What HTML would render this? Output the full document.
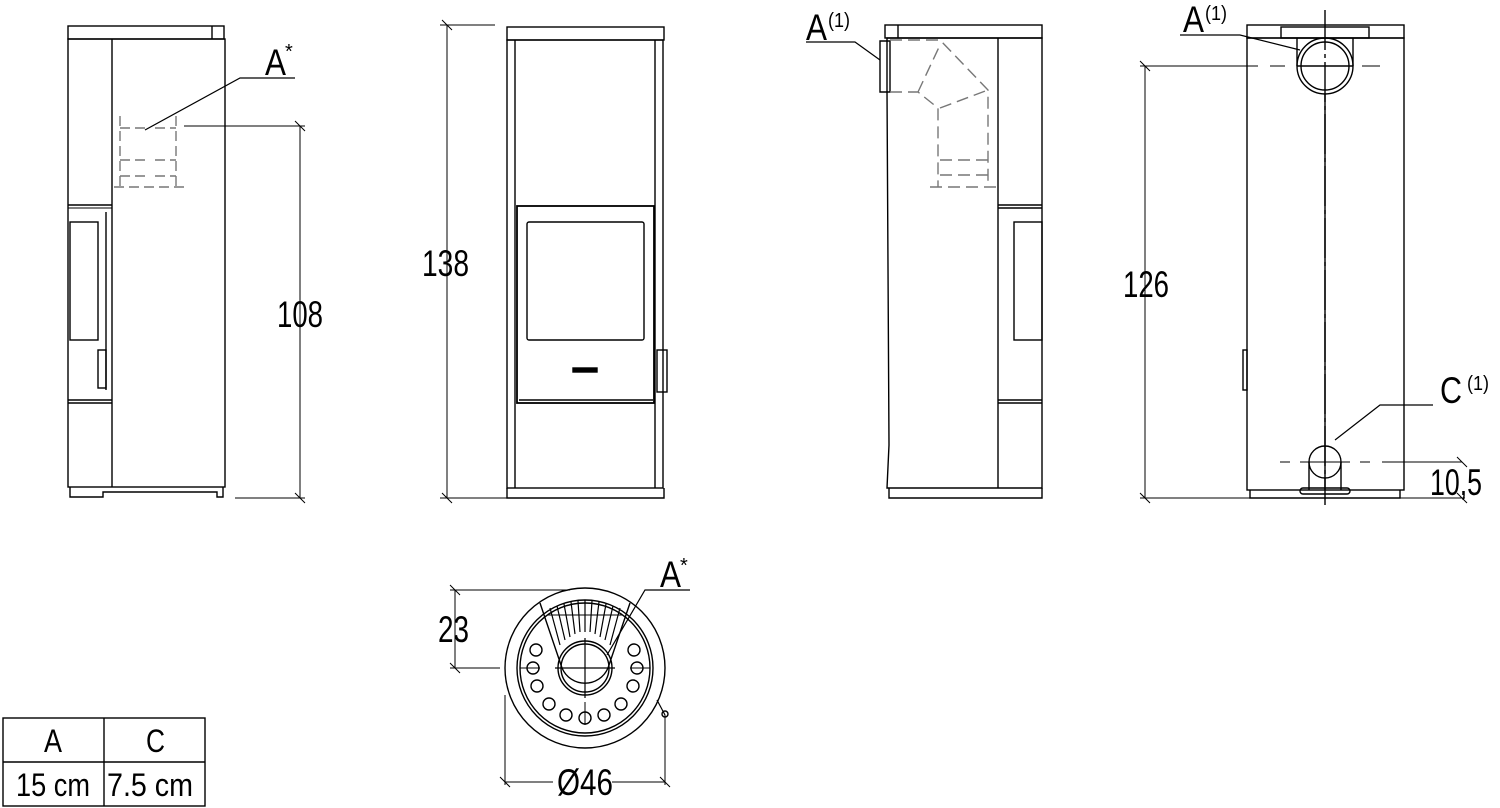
<!DOCTYPE html>
<html><head><meta charset="utf-8"><style>
html,body{margin:0;padding:0;background:#fff;width:1500px;height:808px;overflow:hidden}
svg{display:block}
text{font-family:"Liberation Sans",sans-serif;fill:#000}
</style></head><body>
<svg width="1500" height="808" viewBox="0 0 1500 808" xmlns="http://www.w3.org/2000/svg">
<g fill="none" stroke="#000" stroke-width="1.4">
<!-- VIEW 1 -->
<rect x="68" y="26" width="156" height="13"/>
<line x1="212" y1="26" x2="212" y2="39"/>
<rect x="68" y="39" width="157" height="448"/>
<line x1="112" y1="39" x2="112" y2="487"/>
<line x1="68" y1="205" x2="112" y2="205"/>
<line x1="68" y1="208" x2="112" y2="208" stroke-width="1"/>
<rect x="70" y="222" width="28" height="118"/>
<path d="M106 212 V390"/>
<rect x="98" y="350" width="8" height="38"/>
<line x1="68" y1="400" x2="112" y2="400"/>
<line x1="68" y1="403" x2="112" y2="403"/>
<path d="M70 487 V497 H103 V492 H217 V497 H223 V487"/>
<g stroke="#777" stroke-dasharray="10 5">
<path d="M120 116 V187 M176 116 V187 M114 187 H185 M120 128 H148 M155 128 H176 M120 160 H148 M155 160 H176 M120 176 H148 M155 176 H176"/>
</g>
<path d="M184 126 H305 M300 126 V498 M235 498 H305 M295 121 L305 131 M295 493 L305 503" stroke-width="1"/>
<path d="M295 78 H240 L145 130" stroke-width="1.2"/>
<!-- VIEW 2 -->
<rect x="507" y="27" width="157" height="13"/>
<rect x="507" y="40" width="156" height="448"/>
<line x1="515" y1="40" x2="515" y2="488"/>
<line x1="655" y1="40" x2="655" y2="488"/>
<rect x="517" y="206" width="137" height="197" stroke-width="1.8"/>
<rect x="527" y="222" width="117" height="118" rx="2"/>
<rect x="573" y="368" width="24" height="4" fill="#000"/>
<rect x="657" y="350" width="10" height="42"/>
<line x1="519" y1="400" x2="653" y2="400"/>
<path d="M507 488 V498 H664 V488"/>
<path d="M440 25 H495 M447 25 V498 M440 498 H510 M442 20 L452 30 M442 493 L452 503" stroke-width="1"/>
<!-- VIEW 3 -->
<rect x="885" y="25" width="157" height="13"/>
<line x1="898" y1="25" x2="898" y2="38"/>
<path d="M887 38 V90 L889 445 L887 488 H1042 V38 Z"/>
<line x1="998" y1="38" x2="998" y2="488"/>
<line x1="998" y1="205" x2="1042" y2="205"/>
<line x1="998" y1="208" x2="1042" y2="208"/>
<rect x="1014" y="222" width="28" height="118"/>
<line x1="998" y1="400" x2="1042" y2="400"/>
<line x1="998" y1="403" x2="1042" y2="403"/>
<path d="M880 41 H890 V92 H880 Z"/>
<path d="M889 488 V498 H1042 V488"/>
<g stroke="#777" stroke-dasharray="12 6">
<path d="M890 40 H940 L988 90 V187 M890 92 H918 L938 108 V187 M930 187 H998 M940 160 H990 M940 175 H990 M918 92 L940 45 M940 108 L988 90"/>
</g>
<path d="M806 42 H855 L880 60" stroke-width="1.2"/>
<!-- VIEW 4 -->
<rect x="1247" y="25" width="157" height="13"/>
<rect x="1281" y="27" width="88" height="11"/>
<rect x="1247" y="38" width="157" height="452"/>
<path d="M1297 38 V66 M1353 38 V66"/>
<circle cx="1325" cy="66" r="28"/>
<circle cx="1325" cy="66" r="24"/>
<line x1="1325" y1="10" x2="1325" y2="505" stroke-dasharray="40 4 4 4"/>
<line x1="1297" y1="66" x2="1353" y2="66"/>
<line x1="1325" y1="94" x2="1325" y2="490"/>
<circle cx="1325" cy="462" r="16"/>
<path d="M1309 462 V490 M1341 462 V490"/>
<rect x="1300" y="488" width="50" height="6" rx="3"/>
<rect x="1243" y="350" width="4" height="40"/>
<path d="M1250 490 V498 H1400 V490"/>
<path d="M1140 66 H1258 M1270 66 H1285 M1362 66 H1380" stroke-width="1"/>
<path d="M1145 66 V498 M1140 498 H1250 M1140 61 L1150 71 M1140 493 L1150 503" stroke-width="1"/>
<path d="M1280 462 H1290 M1300 462 H1350 M1360 462 H1370 M1382 462 H1462 M1398 498 H1465 M1457 457 L1467 467 M1457 493 L1467 503" stroke-width="1"/>
<path d="M1180 35 H1240 L1300 50" stroke-width="1.2"/>
<path d="M1433 405 H1380 L1335 440" stroke-width="1.2"/>
<!-- TOP VIEW -->
<circle cx="585" cy="668" r="80"/>
<circle cx="585" cy="668" r="68"/>
<circle cx="585" cy="668" r="65"/>
<path d="M540 603 L562 668 A25 25 0 0 0 608 668 L630 603"/>
<circle cx="585" cy="668" r="27"/>
<circle cx="585" cy="668" r="24"/>
<path d="M555 668 H615 M585 638 V698" stroke-width="1.2"/>
<path d="M548 615 H622" stroke-width="1"/>
<g stroke-width="1.2">
<path d="M550 608 L560 645 M557 606 L565 640 M564 604 L570 637 M571 602 L575 634 M578 601 L580 632 M585 600 V632 M592 601 L590 632 M599 602 L595 634 M606 604 L600 637 M613 606 L605 640 M620 608 L610 645"/>
</g>
<g>
<circle cx="536" cy="650" r="6"/><circle cx="533" cy="668" r="6"/><circle cx="537" cy="686" r="6"/>
<circle cx="549" cy="704" r="6"/><circle cx="566" cy="715" r="6"/><circle cx="585" cy="718" r="6"/>
<circle cx="604" cy="715" r="6"/><circle cx="621" cy="704" r="6"/><circle cx="633" cy="686" r="6"/>
<circle cx="637" cy="668" r="6"/><circle cx="634" cy="650" r="6"/>
</g>
<path d="M520 668 H540 M630 668 H650 M585 702 V725" stroke-width="1"/>
<path d="M657 700 L665 715" stroke-width="1.2"/><circle cx="665" cy="714" r="3"/>
<path d="M450 590 H570 M455 590 V668 M450 668 H500 M450 585 L460 595 M450 663 L460 673" stroke-width="1"/>
<path d="M505 695 V785 M665 715 V785 M505 782 H553 M612 782 H665 M500 777 L510 787 M660 777 L670 787" stroke-width="1"/>
<path d="M690 590 H645 L607 655" stroke-width="1.2"/>
<!-- TABLE -->
<rect x="3" y="718" width="202" height="88"/>
<line x1="3" y1="762" x2="205" y2="762"/>
<line x1="104" y1="718" x2="104" y2="806"/>
</g>
<g font-size="37">
<text x="265" y="75" textLength="21" lengthAdjust="spacingAndGlyphs">A</text><text x="285" y="58" font-size="20">*</text>
<text x="277" y="327" textLength="46" lengthAdjust="spacingAndGlyphs">108</text>
<text x="422" y="276" textLength="47" lengthAdjust="spacingAndGlyphs">138</text>
<text x="806" y="40" textLength="21" lengthAdjust="spacingAndGlyphs">A</text><text x="828" y="27" font-size="20" textLength="22" lengthAdjust="spacingAndGlyphs">(1)</text>
<text x="1183" y="32" textLength="21" lengthAdjust="spacingAndGlyphs">A</text><text x="1205" y="20" font-size="20" textLength="22" lengthAdjust="spacingAndGlyphs">(1)</text>
<text x="1123" y="297" textLength="46" lengthAdjust="spacingAndGlyphs">126</text>
<text x="1440" y="403" textLength="22" lengthAdjust="spacingAndGlyphs">C</text><text x="1467" y="390" font-size="20" textLength="22" lengthAdjust="spacingAndGlyphs">(1)</text>
<text x="1430" y="495" textLength="52" lengthAdjust="spacingAndGlyphs">10,5</text>
<text x="660" y="587" textLength="21" lengthAdjust="spacingAndGlyphs">A</text><text x="680" y="572" font-size="20">*</text>
<text x="438" y="642" textLength="31" lengthAdjust="spacingAndGlyphs">23</text>
<text x="557" y="795" textLength="56" lengthAdjust="spacingAndGlyphs">Ø46</text>
<text x="44" y="752" font-size="32" textLength="18" lengthAdjust="spacingAndGlyphs">A</text>
<text x="146" y="752" font-size="32" textLength="19" lengthAdjust="spacingAndGlyphs">C</text>
<text x="16" y="796" font-size="32" textLength="74" lengthAdjust="spacingAndGlyphs">15 cm</text>
<text x="107" y="796" font-size="32" textLength="86" lengthAdjust="spacingAndGlyphs">7.5 cm</text>
</g>
</svg>
</body></html>
